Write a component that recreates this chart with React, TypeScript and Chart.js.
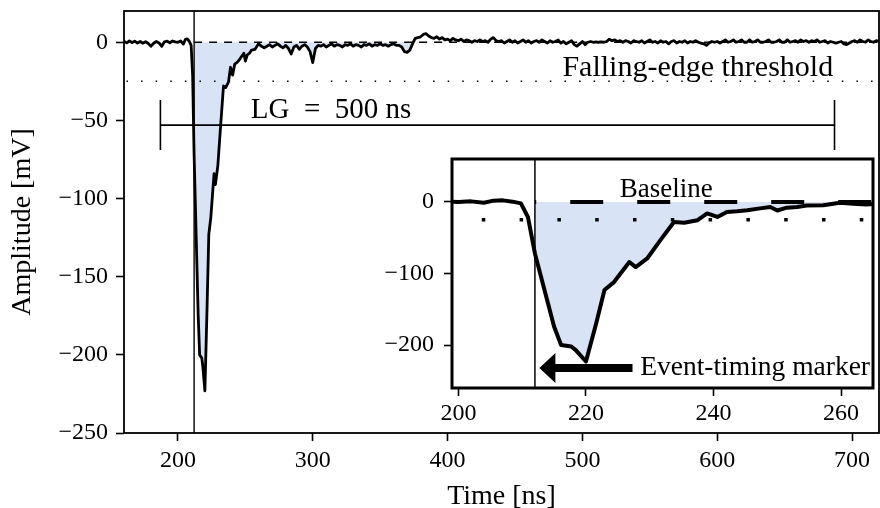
import { useEffect, useRef } from "react";
import { Chart, registerables } from "chart.js";

Chart.register(...registerables);

const SERIF = '"Liberation Serif", "Times New Roman", Times, serif';
const INK = "#000000";
const CHARGE_FILL = "#d9e3f6";

// ---- waveform samples (time in ns, amplitude in mV) ----
const preTriggerNs = [
  160, 162, 164, 166, 168, 170, 172, 174, 176, 178, 180, 182, 184, 186, 188,
  190, 192, 194, 196, 198, 200, 202, 204, 205.5, 207, 208.5, 209.8, 210.9,
];
const preTriggerMv = [
  0.6, -0.4, 0.8, -0.2, 0.7, -0.5, 0.5, -0.6, 0.4, -0.8, -2.5, -0.6, 0.5, -0.4, -2.6,
  0.3, 0.7, -0.3, 0.8, 0.2, 0, 0.8, -1.2, 1.8, 2.2, 0.4, -2, -21,
];
const pulseNs = [
  212, 213.5, 215, 216.1, 217.7, 218.4, 220, 221.6, 222.9, 224.4, 226.8, 227.8,
  229.6, 231.7, 233.8, 235.4, 237.5, 239, 240.6, 242.1, 243.7, 245.3, 247.3,
  248.9, 250, 251.5, 253.1, 254.6, 257.2, 259.8, 261.9, 264,
];
const pulseMv = [
  -72, -123, -174, -200, -202, -207, -223, -170, -123, -112, -84, -91,
  -79, -53, -28, -29, -25.5, -16, -21, -14, -13, -11.5, -9,
  -7, -12, -8, -7, -5, -4.5, -1, -2.5, -3.5,
];
const tailStartNs = 266;
const tailStepNs = 2;
const tailMv = [
  -2.5, -1.5, -3, -2, -1, -2.5, -3.5, -2, -4, -7.5,
  -3, -2, -4.5, -2.5, -1.5, -3, -6, -13, -4, -2,
  -2.5, -1.5, -3, -2, -1, -2.5, -1.5, -2, -3, -1.5,
  -2, -1, -2.5, -1.5, -2, -3, -1.5, -2, -1, -2.5,
  -1.5, -2, -1, -2, -1.5, -2.5, -1.5, -1, -2, -2,
  -3, -6, -6.5, -5, -1, 2.5, 3, 3.5, 5, 5.5,
  4, 3, 2.5, 3.5, 2, 3, 1.5, 2, 1, 2.5,
  1.5, 1, 2, 0.5, 1.5, 1, 0, 1, 0.5, 1.5,
  0.5, 1, 0, 2, 3, 1, 0.5, 1, -0.5, 0.5,
  1.5, 0, 1, -0.5, 0.5, 1.5, 0, 1, -0.5, 0.5,
  1, 0, 1.5, 0.5, -0.5, 1, 0, 0.5, 1.5, -0.5,
  0.5, -1, 0, 1, -1.5, -2.5, -1, 0.5, -1.5, 0,
  0.5, 0, 0.3, 0, 0.2, 0, 0.5, 2, 1, 1.5,
  0.5, 1, 0, 1, 0.5, -0.5, 1, 0.5, 0, 1,
  -0.5, 0.5, 1.5, 0, 0.5, -0.5, 1, 0, 0.5, -1,
  0.5, 1, -0.5, 0.5, 0, 1, -0.5, 0.5, 0, 1,
  0, -0.5, -1, -2, -0.5, 0.5, 0, 0.5, -0.5, 0.5,
  1.5, 0, 0.5, 1.5, 0, 0.5, 1.5, 0, 0, 1.5,
  0, 0.5, 1.5, 0, 0, 0.5, 1.5, 0, 0, 0.5,
  1.5, 0, 0, 1.5, 0, 0.5, 1, 0, 1.5, 0.5,
  1, 0, 1, 0.5, 1.5, 0, 0.5, 1, -0.5, 0.5,
  0, -0.5, 0, 0.5, -1, -1.5, -0.5, 0.5, 1, 0,
  1.5, 0.5, 0, 1.5, 0.5, 0, 1, 0.5,
];

// ---- reference levels / markers ----
const eventTimeNs = 212;
const baselineMv = 0;
const thresholdMv = -25;
const gateStartNs = 187;
const gateEndNs = 687;
const gateLevelMv = -53;
const gateCapTopMv = -37;
const gateCapBottomMv = -69;

// ---- axes ----
const mainXRange = [160, 720];
const mainYRange = [-250, 20];
const mainXTicks = [200, 300, 400, 500, 600, 700];
const mainYTicks = [0, -50, -100, -150, -200, -250];
const insetXRange = [199, 265];
const insetYRange = [-260, 60];
const insetXTicks = [200, 220, 240, 260];
const insetYTicks = [0, -100, -200];

type Pt = { x: number; y: number };

function buildWaveform(): Pt[] {
  const pts: Pt[] = [];
  preTriggerNs.forEach((t, i) => pts.push({ x: t, y: preTriggerMv[i] }));
  pulseNs.forEach((t, i) => pts.push({ x: t, y: pulseMv[i] }));
  tailMv.forEach((v, i) => pts.push({ x: tailStartNs + i * tailStepNs, y: v }));
  return pts;
}

const fmtTick = (v: number | string) => {
  const n = Number(v);
  return n < 0 ? "\u2212" + Math.abs(n) : String(n);
};

const framePlugin = (id: string, lw: number, whiteBg: boolean) => ({
  id,
  beforeDraw(chart: any) {
    if (!whiteBg) return;
    const { ctx, chartArea } = chart;
    ctx.save();
    ctx.fillStyle = "#ffffff";
    ctx.fillRect(chartArea.left, chartArea.top, chartArea.right - chartArea.left, chartArea.bottom - chartArea.top);
    ctx.restore();
  },
  afterDatasetsDraw(chart: any) {
    const { ctx, chartArea } = chart;
    ctx.save();
    ctx.strokeStyle = INK;
    ctx.lineWidth = lw;
    ctx.strokeRect(chartArea.left, chartArea.top, chartArea.right - chartArea.left, chartArea.bottom - chartArea.top);
    ctx.restore();
  },
});

const mainTextPlugin = {
  id: "mainText",
  afterDatasetsDraw(chart: any) {
    const { ctx } = chart;
    const x = chart.scales.x;
    const y = chart.scales.y;
    ctx.save();
    ctx.fillStyle = INK;
    ctx.font = `30px ${SERIF}`;
    ctx.textAlign = "right";
    ctx.textBaseline = "alphabetic";
    ctx.fillText("Falling-edge threshold", x.getPixelForValue(686), y.getPixelForValue(thresholdMv) - 5);
    ctx.font = `29px ${SERIF}`;
    ctx.textAlign = "left";
    ctx.fillText("LG\u2002=\u2002500 ns", x.getPixelForValue(254), y.getPixelForValue(gateLevelMv) - 7);
    ctx.restore();
  },
};

const insetTextPlugin = {
  id: "insetText",
  afterDatasetsDraw(chart: any) {
    const { ctx } = chart;
    const x = chart.scales.x;
    const y = chart.scales.y;
    ctx.save();
    ctx.fillStyle = INK;
    ctx.font = `27px ${SERIF}`;
    ctx.textAlign = "center";
    ctx.textBaseline = "alphabetic";
    ctx.fillText("Baseline", x.getPixelForValue(232.6), y.getPixelForValue(baselineMv) - 5);
    // arrow pointing at the event-timing marker
    const yc = y.getPixelForValue(-232);
    const tip = x.getPixelForValue(212.7);
    const tail = x.getPixelForValue(227.3);
    const headLen = 16;
    const headHalf = 15;
    const shaftHalf = 4;
    ctx.beginPath();
    ctx.moveTo(tip, yc);
    ctx.lineTo(tip + headLen, yc - headHalf);
    ctx.lineTo(tip + headLen, yc - shaftHalf);
    ctx.lineTo(tail, yc - shaftHalf);
    ctx.lineTo(tail, yc + shaftHalf);
    ctx.lineTo(tip + headLen, yc + shaftHalf);
    ctx.lineTo(tip + headLen, yc + headHalf);
    ctx.closePath();
    ctx.fill();
    ctx.textAlign = "left";
    ctx.textBaseline = "middle";
    ctx.font = `27.5px ${SERIF}`;
    ctx.fillText("Event-timing marker", x.getPixelForValue(228.5), yc);
    ctx.restore();
  },
};

function scaleOpts(range: number[], ticks: number[], size: number, tickLen: number, pad: number, title?: any) {
  return {
    type: "linear" as const,
    min: range[0],
    max: range[1],
    afterBuildTicks(s: any) {
      s.ticks = ticks.map((v) => ({ value: v }));
    },
    afterFit(s: any) {
      if (s.isHorizontal()) s.height = size;
      else s.width = size;
      s.paddingTop = 0;
      s.paddingBottom = 0;
      s.paddingLeft = 0;
      s.paddingRight = 0;
    },
    grid: {
      display: true,
      drawOnChartArea: false,
      drawTicks: true,
      tickLength: tickLen,
      tickWidth: 1.6,
      tickColor: INK,
    },
    border: { display: false },
    ticks: {
      color: INK,
      font: { family: SERIF, size: 24 },
      padding: pad,
      maxRotation: 0,
      autoSkip: false,
      callback: (v: any) => fmtTick(v),
    },
    title: title || { display: false },
  };
}

function lineDs(data: Pt[], width: number, extra: any = {}) {
  return {
    data,
    borderColor: INK,
    borderWidth: width,
    pointRadius: 0,
    tension: 0,
    fill: false,
    clip: 0,
    ...extra,
  };
}

export default function App() {
  const mainRef = useRef<HTMLCanvasElement>(null);
  const insetRef = useRef<HTMLCanvasElement>(null);

  useEffect(() => {
    const wave = buildWaveform();
    const charge = wave.filter((p) => p.x >= eventTimeNs);
    const chargeFill = {
      data: charge,
      borderColor: "rgba(0,0,0,0)",
      borderWidth: 1,
      pointRadius: 0,
      tension: 0,
      clip: 0,
      fill: { target: { value: baselineMv }, above: "rgba(0,0,0,0)", below: CHARGE_FILL },
      order: 9,
    };

    const main = new Chart(mainRef.current!, {
      type: "line",
      data: {
        datasets: [
          lineDs(wave, 2.8, { order: 0, borderJoinStyle: "round" }),
          lineDs([{ x: eventTimeNs, y: baselineMv }, { x: mainXRange[1], y: baselineMv }], 1.5, { borderDash: [8, 7], order: 2 }),
          lineDs([{ x: mainXRange[0], y: thresholdMv }, { x: mainXRange[1], y: thresholdMv }], 1.5, { borderDash: [1.5, 13.1], borderDashOffset: 12.15, order: 3 }),
          lineDs([{ x: eventTimeNs, y: mainYRange[0] }, { x: eventTimeNs, y: mainYRange[1] }], 1.4, { order: 1 }),
          lineDs([{ x: gateStartNs, y: gateLevelMv }, { x: gateEndNs, y: gateLevelMv }], 1.6, { order: 4 }),
          lineDs([{ x: gateStartNs, y: gateCapTopMv }, { x: gateStartNs, y: gateCapBottomMv }], 1.6, { order: 4 }),
          lineDs([{ x: gateEndNs, y: gateCapTopMv }, { x: gateEndNs, y: gateCapBottomMv }], 1.6, { order: 4 }),
          chargeFill,
        ] as any,
      },
      options: {
        animation: false,
        responsive: false,
        maintainAspectRatio: false,
        layout: { padding: { top: 11, right: 1, left: 0, bottom: 0 } },
        plugins: { legend: { display: false }, tooltip: { enabled: false } },
        scales: {
          x: scaleOpts(mainXRange, mainXTicks, 75, 8, 5, {
            display: true,
            text: "Time [ns]",
            color: INK,
            font: { family: SERIF, size: 28 },
            padding: { top: 0, bottom: -5 },
          }),
          y: scaleOpts(mainYRange, mainYTicks, 124, 8, 8, {
            display: true,
            text: "Amplitude [mV]",
            color: INK,
            font: { family: SERIF, size: 28 },
            padding: { top: 6, bottom: 0 },
          }),
        } as any,
      },
      plugins: [framePlugin("mainFrame", 1.8, false), mainTextPlugin],
    });

    const inset = new Chart(insetRef.current!, {
      type: "line",
      data: {
        datasets: [
          lineDs(wave, 4, { order: 0, borderJoinStyle: "round" }),
          lineDs([{ x: eventTimeNs, y: baselineMv }, { x: mainXRange[1], y: baselineMv }], 4, { borderDash: [33, 34], borderDashOffset: 31.7, order: 2 }),
          lineDs([{ x: insetXRange[0], y: thresholdMv }, { x: insetXRange[1], y: thresholdMv }], 3.5, { borderDash: [3.5, 34.3], borderDashOffset: 8, order: 3 }),
          lineDs([{ x: eventTimeNs, y: insetYRange[0] }, { x: eventTimeNs, y: insetYRange[1] }], 1.5, { order: 1 }),
          { ...chargeFill },
        ] as any,
      },
      options: {
        animation: false,
        responsive: false,
        maintainAspectRatio: false,
        layout: { padding: { top: 19, right: 7, left: 0, bottom: 0 } },
        plugins: { legend: { display: false }, tooltip: { enabled: false } },
        scales: {
          x: scaleOpts(insetXRange, insetXTicks, 42, 8, 3),
          y: scaleOpts(insetYRange, insetYTicks, 92, 8, 10),
        } as any,
      },
      plugins: [framePlugin("insetFrame", 3, true), insetTextPlugin],
    });

    return () => {
      main.destroy();
      inset.destroy();
    };
  }, []);

  return (
    <div style={{ position: "absolute", left: 0, top: 0, width: 880, height: 508, background: "#fff" }}>
      <canvas ref={mainRef} width={880} height={508} style={{ position: "absolute", left: 0, top: 0, width: 880, height: 508 }} />
      <canvas ref={insetRef} width={520} height={290} style={{ position: "absolute", left: 360, top: 140, width: 520, height: 290 }} />
    </div>
  );
}
